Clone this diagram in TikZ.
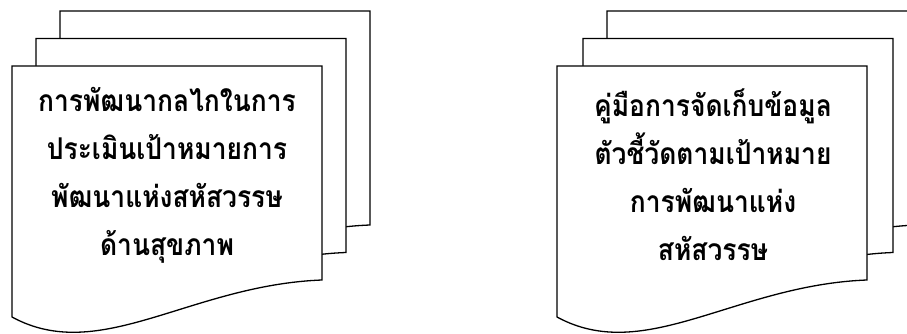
\documentclass[tikz,border=0pt]{standalone}
\usepackage{fontspec}
\newfontfamily\thaifont[Script=Thai,FakeStretch=0.88]{Loma}
\newcommand\docsheet[2]{%
  \begin{scope}[shift={(#1,#2)}]
    \filldraw[sheet] (0,0) -- (310,0) -- (310,214)
      .. controls (178,219) and (88,299) .. (0,251) -- cycle;
  \end{scope}}
\tikzset{
  sheet/.style={draw=black, fill=white, line width=1.3pt, line join=miter},
  label/.style={align=center, inner sep=0pt,
    font=\thaifont\bfseries\fontsize{30}{48}\selectfont}
}
\begin{document}
\begin{tikzpicture}[x=1pt,y=-1pt]
  \useasboundingbox (0,0) rectangle (907,334);
  \clip (0,0) rectangle (907,334);
  % left stack
  \docsheet{60}{11}
  \docsheet{36}{38.5}
  \docsheet{12}{66}
  % right stack
  \docsheet{607}{11}
  \docsheet{583}{38.5}
  \docsheet{557}{66}
  \node[label] (left) at (167,175) {การพัฒนากลไกในการ\\ประเมินเป้าหมายการ\\พัฒนาแห่งสหัสวรรษ\\ด้านสุขภาพ};
  \node[label] (right) at (713,175) {คู่มือการจัดเก็บข้อมูล\\ตัวชี้วัดตามเป้าหมาย\\การพัฒนาแห่ง\\สหัสวรรษ};
\end{tikzpicture}
\end{document}
